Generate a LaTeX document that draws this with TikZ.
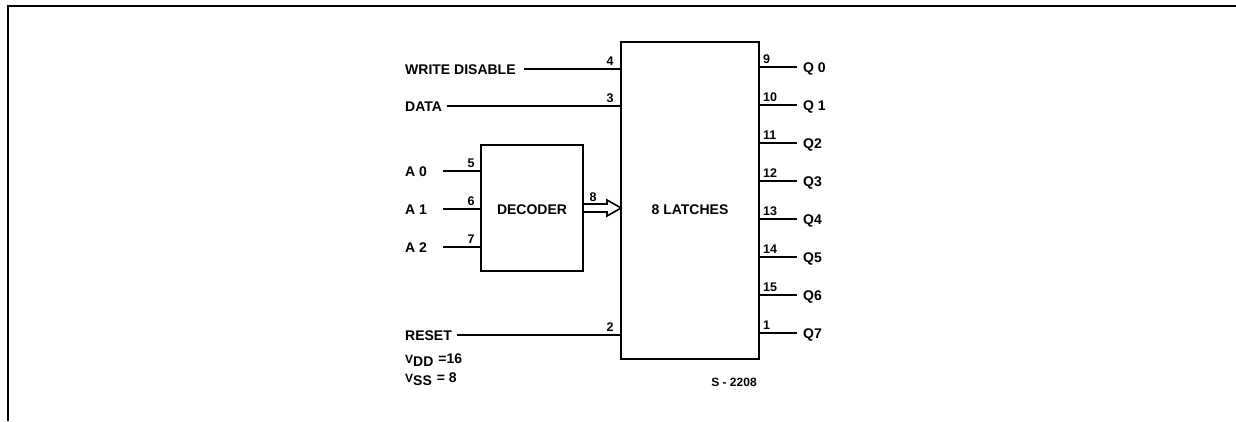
\documentclass[tikz,border=0pt]{standalone}
\usepackage{fontspec}
\setmainfont{Liberation Sans}
\usetikzlibrary{calc}
\begin{document}
\begin{tikzpicture}[x=1pt,y=-1pt,
  box/.style={draw, line width=2.6pt, inner sep=0pt, outer sep=0pt},
  pin/.style={line width=1.6pt},
  lbl/.style={font=\bfseries\fontsize{14}{16}\selectfont, inner sep=0pt, text height=10pt, text depth=0pt},
  num/.style={font=\bfseries\fontsize{12.5}{14}\selectfont, inner sep=0pt},
  frame/.style={line width=2.8pt}]
\useasboundingbox (0,0) rectangle (1236,421);
% frame
\draw[frame] (8,421) -- (8,6) -- (1236,6);
% boxes
\node[box, minimum width=138pt, minimum height=317pt] (lat) at (690,200.5) {};
\node[lbl] (latl) at (690,209) {8 LATCHES};
\node[box, minimum width=102pt, minimum height=126pt] (dec) at (532,208) {};
\node[lbl] (decl) at (532,209) {DECODER};
% left inputs to latches
\node[lbl, anchor=west] (wd) at (405,69) {WRITE DISABLE};
\draw[pin] ($(wd.east)+(8,0)$) -- (wd -| lat.west);
\node[num, anchor=south] (p4) at ($(wd -| lat.west)+(-11,-3)$) {4};
\node[lbl, anchor=west] (data) at (405,106) {DATA};
\draw[pin] ($(data.east)+(5,0)$) -- (data -| lat.west);
\node[num, anchor=south] (p3) at ($(data -| lat.west)+(-11,-3)$) {3};
\node[lbl, anchor=west] (rst) at (405,335) {RESET};
\draw[pin] ($(rst.east)+(5,0)$) -- (rst -| lat.west);
\node[num, anchor=south] (p2) at ($(rst -| lat.west)+(-11,-3)$) {2};
% address inputs
\foreach \a/\p/\y in {0/5/171, 1/6/209, 2/7/247} {
  \node[lbl, anchor=west] (a\a) at (405,\y) {A \a};
  \draw[pin] (443,\y) coordinate (s\a) -- (s\a -| dec.west);
  \node[num, anchor=south] (n\a) at ($(s\a -| dec.west)+(-10,-3)$) {\p};
}
% decoder to latches hollow arrow
\draw[pin, line join=miter] ($(dec.east)+(0,-4)$) -- ($(dec.east)+(24,-4)$) -- ($(dec.east)+(24,-8)$)
  -- (dec.east -| lat.west) -- ($(dec.east)+(24,8)$) -- ($(dec.east)+(24,4)$) -- ($(dec.east)+(0,4)$);
\node[num, anchor=south] (p8) at ($(dec.east)+(10,-6)$) {8};
% outputs
\foreach \n/\q/\y in {9/Q 0/67, 10/Q 1/105, 11/Q2/143, 12/Q3/181, 13/Q4/219, 14/Q5/257, 15/Q6/295, 1/Q7/333} {
  \node[lbl, anchor=west] (q\n) at (803,\y) {\q};
  \draw[pin] (lat.east |- q\n) -- ($(q\n.west)+(-6,0)$);
  \node[num, anchor=south west] (o\n) at ($(lat.east |- q\n)+(4,-3)$) {\n};
}
% supply notes
\node[lbl, anchor=west] (vdd) at (405,358) {{\fontsize{12}{13}\selectfont V}\raisebox{-3pt}{DD}\hspace{5pt}=16};
\node[lbl, anchor=west] (vss) at (405,377) {{\fontsize{12}{13}\selectfont V}\raisebox{-3pt}{SS}\hspace{5pt}= 8};
\node[num, font=\bfseries\fontsize{12}{14}\selectfont] (ref) at (734,382) {S - 2208};
\end{tikzpicture}
\end{document}
